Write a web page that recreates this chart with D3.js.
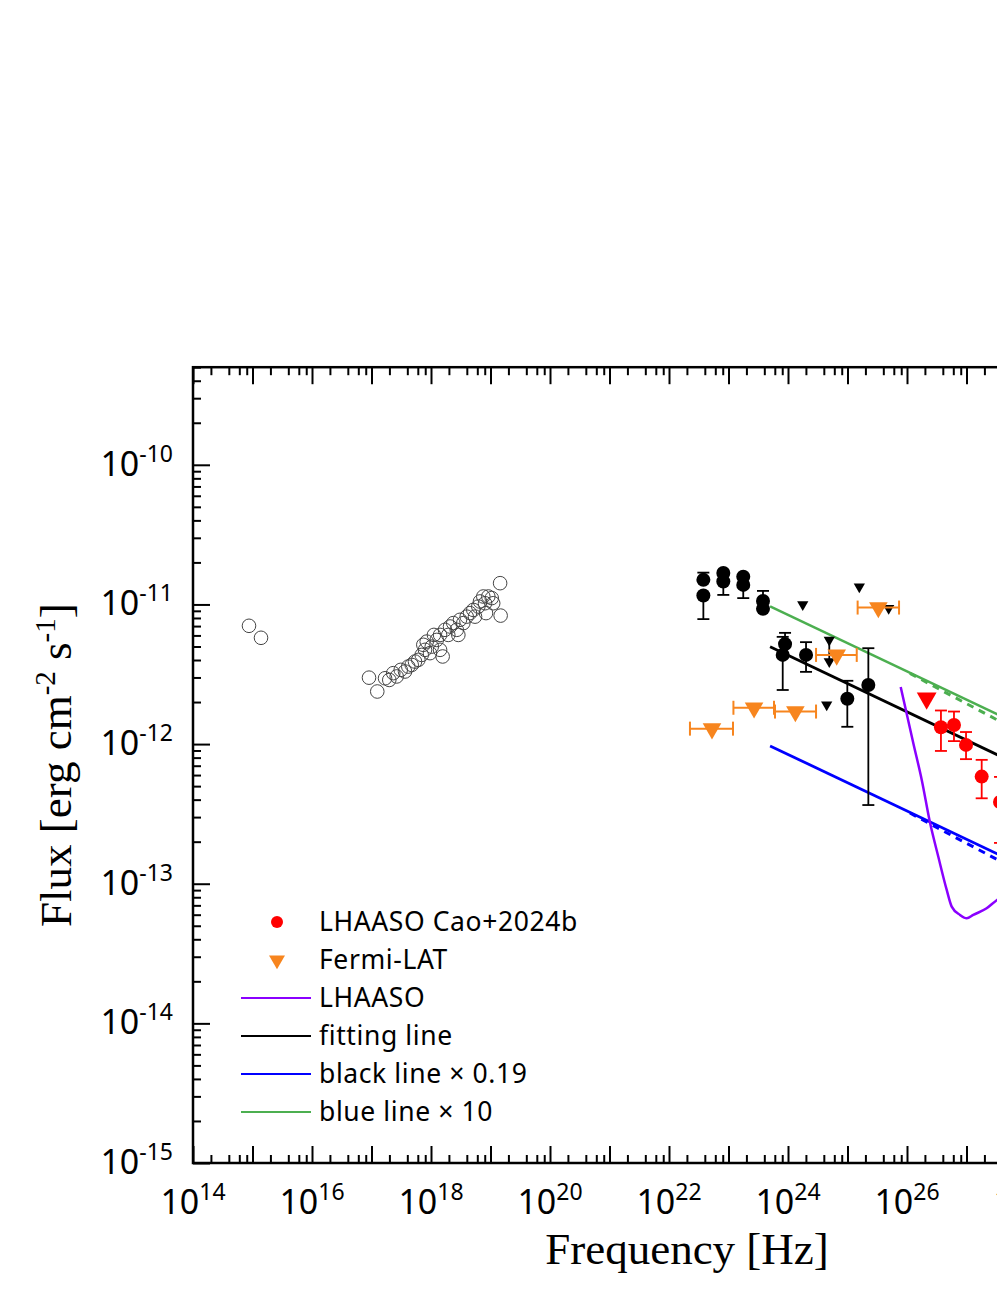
<!DOCTYPE html>
<html><head><meta charset="utf-8">
<script src="https://cdn.jsdelivr.net/npm/d3@7"></script>
<style>body{margin:0;background:#fff}</style>
</head><body><svg id="c" width="997" height="1290" xmlns="http://www.w3.org/2000/svg"></svg>
<script>
// ---------------- DATA ----------------
// X-ray (open circles)
const xrayNu = [8.73e14,1.39e15,9.08e16,1.25e17,1.69e17,1.99e17,2.32e17,2.65e17,3.10e17,3.66e17,4.15e17,4.74e17,5.38e17,6.12e17,6.98e17,7.93e17,7.43e17,8.47e17,9.62e17,1.03e18,1.12e18,1.25e18,1.42e18,1.57e18,1.42e18,1.72e18,1.95e18,2.09e18,2.37e18,2.71e18,2.88e18,3.07e18,3.49e18,3.98e18,4.52e18,5.14e18,5.49e18,6.24e18,6.66e18,7.57e18,8.09e18,9.19e18,1.05e19,1.11e19,8.40e18,1.45e19,1.48e19];
const xrayFlux = [7.03e-12,5.77e-12,2.99e-12,2.38e-12,2.96e-12,2.88e-12,3.22e-12,3.05e-12,3.40e-12,3.31e-12,3.59e-12,3.69e-12,3.90e-12,4.01e-12,4.35e-12,4.73e-12,5.14e-12,5.42e-12,4.48e-12,4.99e-12,6.05e-12,5.57e-12,4.73e-12,4.24e-12,6.05e-12,6.58e-12,6.05e-12,6.95e-12,7.35e-12,6.58e-12,6.05e-12,7.76e-12,7.35e-12,8.18e-12,8.67e-12,9.14e-12,8.18e-12,9.66e-12,1.05e-11,1.14e-11,1.02e-11,1.14e-11,1.11e-11,1.02e-11,8.67e-12,1.42e-11,8.32e-12];

// Gamma-ray black points
const gNu   = [3.78e22,3.78e22,8.18e22,8.18e22,1.77e23,1.77e23,3.80e23,3.80e23,8.92e23,8.15e23,2.01e24,9.93e24,2.24e25];
const gFlux = [1.50e-11,1.16e-11,1.68e-11,1.46e-11,1.58e-11,1.38e-11,1.06e-11,9.30e-12,5.20e-12,4.35e-12,4.35e-12,2.11e-12,2.65e-12];
const gHi   = [1.69e-11,null,null,null,null,null,1.25e-11,null,6.26e-12,5.86e-12,5.37e-12,2.84e-12,4.86e-12];
const gLo   = [null,7.85e-12,null,1.17e-11,null,1.11e-11,null,null,null,2.44e-12,3.29e-12,1.33e-12,3.66e-13];

// Black upper limits
const ulNu   = [1.77e24,1.58e25,4.92e25,4.47e24,4.94e24,4.94e24];
const ulFlux = [1.00e-11,1.34e-11,9.40e-12,1.91e-12,5.57e-12,3.90e-12];
const ulHi   = [null,null,null,null,null,5.57e-12];

// Fermi-LAT (orange)
const fNu    = [3.30e25,6.58e24,2.69e23,1.33e24,5.28e22];
const fFlux  = [9.50e-12,4.35e-12,1.82e-12,1.71e-12,1.29e-12];
const fNuLo  = [1.48e25,2.96e24,1.21e23,6.05e23,2.25e22];
const fNuHi  = [7.35e25,1.43e25,5.82e23,2.96e24,1.19e23];

// LHAASO Cao+2024b (red)
const rNu   = [3.72e26,6.16e26,9.82e26,1.80e27,3.66e27];
const rFlux = [1.32e-12,1.37e-12,9.87e-13,5.85e-13,3.85e-13];
const rHi   = [1.74e-12,1.71e-12,1.22e-12,7.71e-13,5.82e-13];
const rLo   = [8.93e-13,1.05e-12,7.80e-13,4.09e-13,1.96e-13];
const rUlNu = [2.14e26];
const rUlFlux = [2.13e-12];

// Lines
const lineNu = [5.0e23, 1e29];
const fitFlux = [4.97e-12, 4.20e-13];
const blueFlux = [9.70e-13, 8.20e-14];
const greenFlux = [9.70e-12, 8.20e-13];
const dashNu = [1.12e26, 5.28e26, 3.01e27, 1.72e28];
const blueDashFlux = [3.21e-13, 2.25e-13, 1.52e-13, 9.80e-14];
const greenDashFlux = [3.21e-12, 2.25e-12, 1.52e-12, 9.80e-13];

// LHAASO sensitivity (purple)
const lhNu = [7.84e25,1.28e26,1.77e26,2.44e26,3.36e26,4.65e26,5.64e26,7.78e26,1.01e27,1.30e27,2.18e27,3.26e27,5.38e27];
const lhFlux = [2.56e-12,1.01e-12,5.54e-13,2.73e-13,1.56e-13,9.03e-14,6.86e-14,5.98e-14,5.66e-14,5.98e-14,6.67e-14,7.65e-14,8.59e-14];

// Ticks
const xTickExp = [14,16,18,20,22,24,26,28,30];
const yTickExp = [-10,-11,-12,-13,-14,-15];

const legendLabels = ["LHAASO Cao+2024b","Fermi-LAT","LHAASO","fitting line","black line × 0.19","blue line × 10"];

// ---------------- LAYOUT ----------------
const L = 193, R = 1145, T = 367.2, B = 1163;
const x = d3.scaleLog().domain([1e14, 1e30]).range([L, R]);
const y = d3.scaleLog().domain([1e-15, 5e-10]).range([B, T]);
const svg = d3.select('#c');

const C = {black:'#000', red:'#ff0000', orange:'#f7851e', purple:'#8a00ff', blue:'#0000ff', green:'#4caf50'};

// ticks
const xMajor = d3.range(14, 31).map(e => +('1e' + e));
const xMinor = [];
d3.range(14, 30).forEach(e => [2,4,6,8].forEach(m => xMinor.push(m * +('1e' + e))));
const yMajor = d3.range(-15, -9).map(e => +('1e' + e));
const yMinor = [];
d3.range(-15, -10).forEach(e => [2,3,4,5,6,7,8,9].forEach(m => yMinor.push(m * +('1e' + e))));
d3.range(2,6).forEach(m => yMinor.push(m * 1e-10));

function styleAxis(g){
  g.select('.domain').remove();
  g.selectAll('text').remove();
  g.selectAll('line').attr('stroke','#000').attr('stroke-width',2);
}
const axes = [
  [d3.axisLeft(y), `translate(${L},0)`, yMajor, yMinor],
  [d3.axisRight(y), `translate(${R},0)`, yMajor, yMinor],
  [d3.axisBottom(x), `translate(0,${B})`, xMajor, xMinor],
  [d3.axisTop(x), `translate(0,${T})`, xMajor, xMinor],
];
axes.forEach(([gen, tr, maj, min]) => {
  svg.append('g').attr('transform', tr).call(gen.tickValues(maj).tickSize(-17).tickFormat('')).call(styleAxis);
  svg.append('g').attr('transform', tr).call(gen.tickValues(min).tickSize(-8).tickFormat('')).call(styleAxis);
});
svg.append('rect').attr('x',L).attr('y',T).attr('width',R-L).attr('height',B-T)
  .attr('fill','none').attr('stroke','#000').attr('stroke-width',2.5);

// tick labels
const tickFont = "'Noto Sans', 'Open Sans', sans-serif";
xTickExp.forEach(e => {
  const t = svg.append('text').attr('x', x(+('1e'+e))).attr('y', 1214)
    .attr('text-anchor','middle').attr('font-family',tickFont).attr('font-size',34);
  t.append('tspan').text('10');
  t.append('tspan').attr('font-size',23).attr('dy',-14).text(e);
});
yTickExp.forEach(e => {
  const t = svg.append('text').attr('x', 173).attr('y', y(+('1e'+e)) + 11)
    .attr('text-anchor','end').attr('font-family',tickFont).attr('font-size',34);
  t.append('tspan').text('10');
  t.append('tspan').attr('font-size',23).attr('dy',-14).text(e);
});

// axis titles
const serif = "'Liberation Serif', 'Times New Roman', serif";
svg.append('text').attr('x', 687).attr('y', 1264).attr('text-anchor','middle')
  .attr('font-family',serif).attr('font-size',45).text('Frequency [Hz]');
const yt = svg.append('text').attr('transform', `translate(71,${(T+B)/2}) rotate(-90)`)
  .attr('text-anchor','middle').attr('font-family',serif).attr('font-size',45);
yt.append('tspan').text('Flux [erg cm');
yt.append('tspan').attr('font-size',29).attr('dy',-16).text('-2');
yt.append('tspan').attr('dy',16).text(' s');
yt.append('tspan').attr('font-size',29).attr('dy',-16).text('-1');
yt.append('tspan').attr('dy',16).text(']');

// plot clip
svg.append('clipPath').attr('id','clip').append('rect').attr('x',L).attr('y',T).attr('width',R-L).attr('height',B-T);
const plot = svg.append('g').attr('clip-path','url(#clip)');

const line = d3.line().x(d => x(d[0])).y(d => y(d[1]));
const lineC = d3.line().x(d => x(d[0])).y(d => y(d[1])).curve(d3.curveMonotoneX);

// lines
plot.append('path').attr('d', line(d3.zip(dashNu, greenDashFlux))).attr('fill','none')
  .attr('stroke',C.green).attr('stroke-width',3).attr('stroke-dasharray','7,6');
plot.append('path').attr('d', line(d3.zip(dashNu, blueDashFlux))).attr('fill','none')
  .attr('stroke',C.blue).attr('stroke-width',3).attr('stroke-dasharray','7,6');
plot.append('path').attr('d', line(d3.zip(lineNu, greenFlux))).attr('fill','none')
  .attr('stroke',C.green).attr('stroke-width',2.5);
plot.append('path').attr('d', line(d3.zip(lineNu, blueFlux))).attr('fill','none')
  .attr('stroke',C.blue).attr('stroke-width',2.8);

// X-ray open circles
plot.selectAll('.xr').data(d3.zip(xrayNu, xrayFlux)).join('circle')
  .attr('cx', d => x(d[0])).attr('cy', d => y(d[1])).attr('r', 6.8)
  .attr('fill','none').attr('stroke','#444').attr('stroke-width',1);

// error bar helper (vertical)
function vErr(g, nu, v, lim, color, cap, sw){
  if (lim == null) return;
  const X = x(nu);
  g.append('line').attr('x1',X).attr('x2',X).attr('y1',y(v)).attr('y2',y(lim))
    .attr('stroke',color).attr('stroke-width',sw);
  g.append('line').attr('x1',X-cap).attr('x2',X+cap).attr('y1',y(lim)).attr('y2',y(lim))
    .attr('stroke',color).attr('stroke-width',sw);
}
const tri = (s) => d3.symbol().type(d3.symbolTriangle).size(s)();

// black gamma points
gNu.forEach((nu,i) => {
  vErr(plot, nu, gFlux[i], gHi[i], '#000', 6, 1.8);
  vErr(plot, nu, gFlux[i], gLo[i], '#000', 6, 1.8);
});
plot.selectAll('.gp').data(d3.zip(gNu, gFlux)).join('circle')
  .attr('cx', d => x(d[0])).attr('cy', d => y(d[1])).attr('r', 7).attr('fill','#000');

// black upper limits
ulNu.forEach((nu,i) => {
  if (ulHi[i] != null) plot.append('line').attr('x1',x(nu)).attr('x2',x(nu))
    .attr('y1',y(ulFlux[i])).attr('y2',y(ulHi[i])).attr('stroke','#000').attr('stroke-width',1.8);
});
plot.selectAll('.ul').data(d3.zip(ulNu, ulFlux)).join('path')
  .attr('d', tri(55)).attr('fill','#000')
  .attr('transform', d => `translate(${x(d[0])},${y(d[1])}) rotate(180)`);

// Fermi-LAT
fNu.forEach((nu,i) => {
  const Y = y(fFlux[i]);
  plot.append('line').attr('x1',x(fNuLo[i])).attr('x2',x(fNuHi[i])).attr('y1',Y).attr('y2',Y)
    .attr('stroke',C.orange).attr('stroke-width',2);
  [fNuLo[i], fNuHi[i]].forEach(v => plot.append('line').attr('x1',x(v)).attr('x2',x(v))
    .attr('y1',Y-7).attr('y2',Y+7).attr('stroke',C.orange).attr('stroke-width',2));
});
plot.selectAll('.fl').data(d3.zip(fNu, fFlux)).join('path')
  .attr('d', tri(150)).attr('fill',C.orange)
  .attr('transform', d => `translate(${x(d[0])},${y(d[1])}) rotate(180)`);

// fitting line & LHAASO sensitivity
plot.append('path').attr('d', line(d3.zip(lineNu, fitFlux))).attr('fill','none')
  .attr('stroke','#000').attr('stroke-width',2.8);
plot.append('path').attr('d', lineC(d3.zip(lhNu, lhFlux))).attr('fill','none')
  .attr('stroke',C.purple).attr('stroke-width',2.5);

// LHAASO Cao+2024b
rNu.forEach((nu,i) => {
  vErr(plot, nu, rFlux[i], rHi[i], C.red, 6, 1.8);
  vErr(plot, nu, rFlux[i], rLo[i], C.red, 6, 1.8);
});
plot.selectAll('.rp').data(d3.zip(rNu, rFlux)).join('circle')
  .attr('cx', d => x(d[0])).attr('cy', d => y(d[1])).attr('r', 7).attr('fill',C.red);
plot.selectAll('.ru').data(d3.zip(rUlNu, rUlFlux)).join('path')
  .attr('d', tri(170)).attr('fill',C.red)
  .attr('transform', d => `translate(${x(d[0])},${y(d[1])}) rotate(180)`);

// legend
const legFont = "'Noto Sans', 'Open Sans', sans-serif";
const legY0 = 922, legDy = 38;
const leg = svg.append('g');
legendLabels.forEach((lab,i) => {
  const Y = legY0 + i*legDy;
  if (i === 0) leg.append('circle').attr('cx',277).attr('cy',Y).attr('r',6).attr('fill',C.red);
  else if (i === 1) leg.append('path').attr('d',tri(110)).attr('fill',C.orange)
    .attr('transform',`translate(277,${Y}) rotate(180)`);
  else {
    const col = [null,null,C.purple,'#000',C.blue,C.green][i];
    leg.append('line').attr('x1',241).attr('x2',311).attr('y1',Y).attr('y2',Y)
      .attr('stroke',col).attr('stroke-width',2);
  }
  leg.append('text').attr('x',319).attr('y',Y+9).attr('font-family',legFont)
    .attr('font-size',26.5).attr('letter-spacing',0.6).text(lab);
});
</script>
</body></html>
